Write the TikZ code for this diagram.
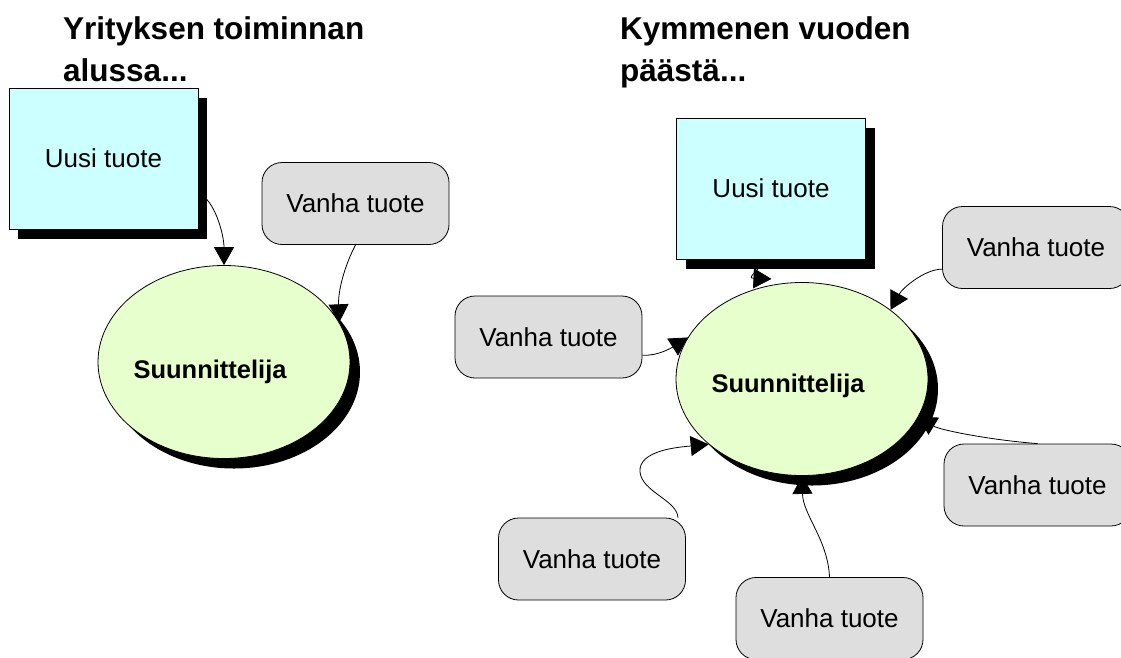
\documentclass[tikz,border=0pt]{standalone}
\usepackage{fontspec}
\setmainfont{Liberation Sans}
\usetikzlibrary{arrows.meta,shapes.geometric,shadows}
\definecolor{newfill}{RGB}{204,255,255}
\definecolor{ellfill}{RGB}{230,255,204}
\definecolor{oldfill}{RGB}{222,222,222}
\begin{document}
\begin{tikzpicture}[x=1pt,y=-1pt,
  titletext/.style={font=\fontsize{31.5}{38}\selectfont\bfseries, anchor=base west, inner sep=0pt},
  newbox/.style={rectangle, draw=black, line width=0.8pt, fill=newfill,
    minimum width=189pt, minimum height=141pt, inner sep=0pt,
    font=\fontsize{26}{31}\selectfont,
    general shadow={fill=black, shadow xshift=9pt, shadow yshift=-10pt}},
  oldbox/.style={rectangle, rounded corners=20pt, draw=black, line width=0.8pt, fill=oldfill,
    minimum width=187pt, minimum height=82pt, inner sep=0pt,
    font=\fontsize{26}{31}\selectfont},
  ellnode/.style={ellipse, draw=black, line width=0.8pt, fill=ellfill,
    minimum width=252pt, minimum height=193pt, inner sep=0pt,
    general shadow={fill=black, shadow xshift=10pt, shadow yshift=-10pt}},
  elltext/.style={font=\fontsize{25.5}{30}\selectfont\bfseries, inner sep=0pt},
  conn/.style={draw=black, line width=0.8pt, -{Triangle[width=20pt,length=18pt]}}]
\useasboundingbox (0,0) rectangle (1121,657);

% titles
\node[titletext] (t1a) at (63,39) {Yrityksen toiminnan};
\node[titletext] (t1b) at (63,81) {alussa...};
\node[titletext] (t2a) at (620,39) {Kymmenen vuoden};
\node[titletext] (t2b) at (620,81) {päästä...};

% left panel
\node[newbox] (lbox) at (103.5,158.5) {Uusi tuote};
\node[oldbox] (lvan) at (355.5,203.5) {Vanha tuote};
\node[ellnode] (lell) at (224,362) {};
\node[elltext] (lellt) at (210,372) {Suunnittelija};

\draw[conn] (lbox.-20) .. controls (215,200) and (224,235) .. (lell.north);
\draw[conn] (lvan.south) .. controls (345,265) and (338,290) .. (lell.19);

% right panel
\node[newbox] (rbox) at (771,188.5) {Uusi tuote};
\node[oldbox] (rvl) at (548.5,337) {Vanha tuote};
\node[oldbox] (rvur) at (1036,247.5) {Vanha tuote};
\node[oldbox] (rvlr) at (1037.5,485) {Vanha tuote};
\node[oldbox] (rvbl) at (592,559) {Vanha tuote};
\node[oldbox] (rvb) at (829.5,618.5) {Vanha tuote};
\node[ellnode] (rell) at (802,379) {};
\node[elltext] (rellt) at (788,386) {Suunnittelija};

\draw[conn] (rbox.-95) .. controls (758,272) and (746,278) .. ([yshift=6pt]rell.108);
\draw[conn] (rvl.-11) .. controls (658,356) and (671.5,347.8) .. (rell.160);
\draw[conn] (rvur.193) .. controls (925,269) and (902.5,288) .. (rell.38);
\draw[conn] (rvlr.north) .. controls (990,440) and (940,430) .. (rell.-18);
\draw[conn] ([xshift=86pt]rvbl.north) .. controls (677,500) and (642,492) .. (640,472)
  .. controls (638,450) and (680,447) .. (rell.-145);
\draw[conn] (rvb.north) .. controls (828,540) and (803,515) .. (rell.south);
\end{tikzpicture}
\end{document}
